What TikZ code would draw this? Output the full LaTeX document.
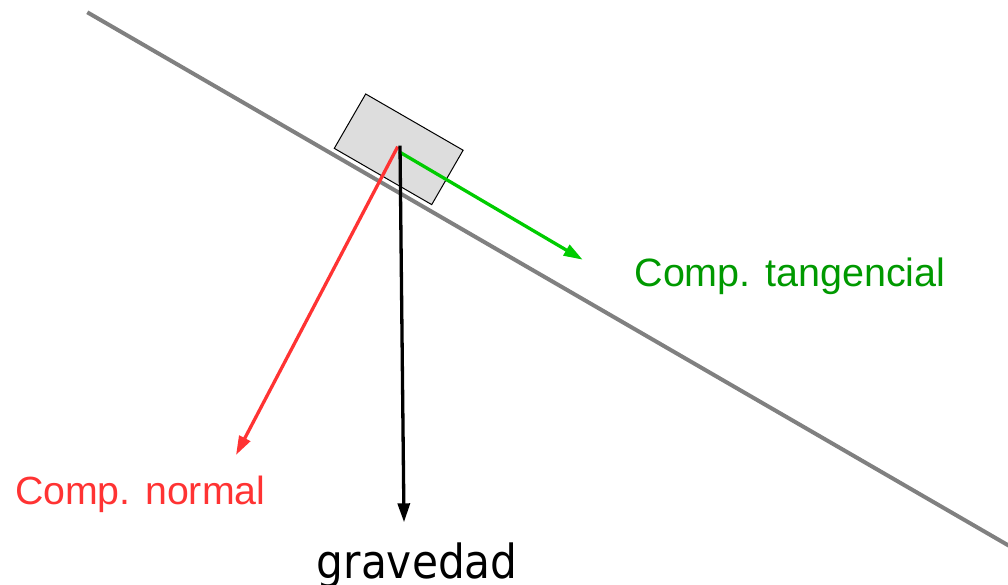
\documentclass[tikz,border=0pt]{standalone}
\usepackage{fontspec}
\usetikzlibrary{arrows.meta}
\newfontfamily\arialf{Liberation Sans}
\newfontfamily\dejaf[FakeStretch=0.9]{DejaVu Sans}
\definecolor{inclinegray}{HTML}{808080}
\definecolor{blockfill}{HTML}{DDDDDD}
\definecolor{vecred}{HTML}{FF3333}
\definecolor{vecgreen}{HTML}{00CC00}
\definecolor{txtgreen}{HTML}{009900}
\tikzset{
  vec/.style={line width=3.3pt, -{Triangle[length=19pt,width=12pt]}},
  lbl/.style={anchor=base west, inner sep=0pt, outer sep=0pt},
  blockbox/.style={draw=black, fill=blockfill, line width=1pt, minimum width=112.5pt, minimum height=62.8pt, inner sep=0pt, rotate=-30},
}
\begin{document}
\begin{tikzpicture}[x=1pt,y=-1pt]
\useasboundingbox (0,0) rectangle (1008,585);
% incline
\coordinate (inA) at (87.3,12.3);
\coordinate (inB) at (1012,547.5);
\draw[inclinegray, line width=4pt] (inA) -- (inB);
% block
\node[blockbox] (block) at (398.7,149.3) {};
% origins and ends
\coordinate (oR) at (397.7,146.7);
\coordinate (oG) at (399,151.7);
\coordinate (oB) at (400,145.7);
\coordinate (eR) at (236,455);
\coordinate (eG) at (582.7,259.7);
\coordinate (eB) at (404,522.3);
\draw[vec, vecred] (oR) -- (eR);
\draw[vec, vecgreen] (oG) -- (eG);
\draw[vec, black] (oB) -- (eB);
% labels
\node[lbl, text=txtgreen, font=\arialf\fontsize{39.5}{47}\selectfont] (tang) at (634.5,286) {Comp. tangencial};
\node[lbl, text=vecred, font=\arialf\fontsize{39.3}{47}\selectfont] (norm) at (15,504) {Comp. normal};
\node[lbl, text=black, font=\dejaf\fontsize{47}{56}\selectfont] (grav) at (316.8,578) {gravedad};
\end{tikzpicture}
\end{document}
